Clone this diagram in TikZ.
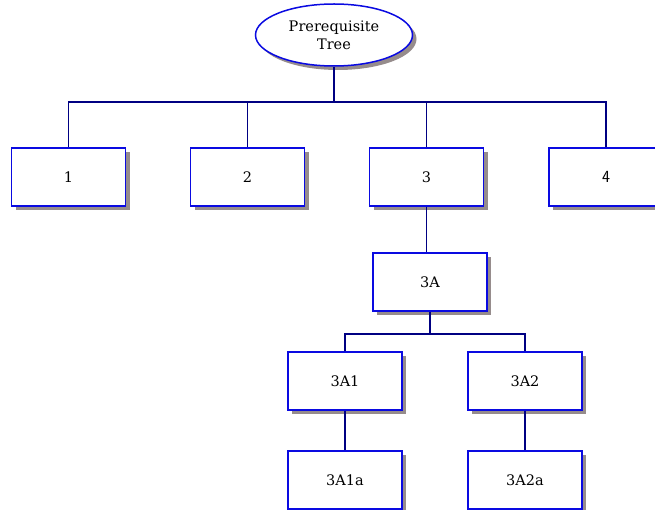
\documentclass[tikz,border=0pt]{standalone}
\usepackage{fontspec}
\setmainfont{DejaVu Serif}
\usetikzlibrary{shapes}
\usetikzlibrary{shadows}
\definecolor{boxblue}{RGB}{10,10,225}
\definecolor{linknavy}{RGB}{0,0,130}
\definecolor{shadowgray}{RGB}{150,140,140}

\begin{document}
\begin{tikzpicture}[x=1pt, y=-1pt,
font=\fontsize{14.5}{18}\selectfont,
topic/.style={draw=boxblue, fill=white, line width=1.5pt, minimum width=114pt, minimum height=58pt, copy shadow={shadow xshift=4pt, shadow yshift=-4pt, draw=none, fill=shadowgray}},
root/.style={ellipse, draw=boxblue, fill=white, line width=1.5pt, minimum width=157pt, minimum height=62pt, align=center, inner sep=0pt, copy shadow={shadow xshift=4pt, shadow yshift=-4pt, draw=none, fill=shadowgray}},
link/.style={draw=linknavy, line width=1.5pt}]
\useasboundingbox (0,0) rectangle (655,510);
\clip (0,0) rectangle (655,510);
\node [root] (t0) at (334,35) {Prerequisite\\Tree};

\node [topic] (n1) at (68.5,177) {1};
\node [topic] (n2) at (247.5,177) {2};
\node [topic] (n3) at (426.5,177) {3};
\node [topic] (n4) at (606,177) {\sffamily\fontsize{17}{20}\selectfont 4};
\node [topic] (n3a) at (430,282) {3A};
\node [topic] (n3a1) at (345,381) {3A1};
\node [topic] (n3a2) at (525,381) {3A2};
\node [topic] (n3a1a) at (345,480) {3A1a};
\node [topic] (n3a2a) at (525,480) {3A2a};
\coordinate (b0) at (334,102);
\coordinate (b1) at (430,334);
\draw [link] (t0) -- (b0);
\draw [link] (n1.north) |- (b0) -| (n4.north);
\draw [link] (n2.north) -- (n2.north |- b0);
\draw [link] (n3.north) -- (n3.north |- b0);
\draw [link] (n3.south) -- (n3.south |- n3a.north);
\draw [link] (n3a) -- (b1);
\draw [link] (n3a1.north) |- (b1) -| (n3a2.north);
\draw [link] (n3a1) -- (n3a1a);
\draw [link] (n3a2) -- (n3a2a);
\end{tikzpicture}
\end{document}
